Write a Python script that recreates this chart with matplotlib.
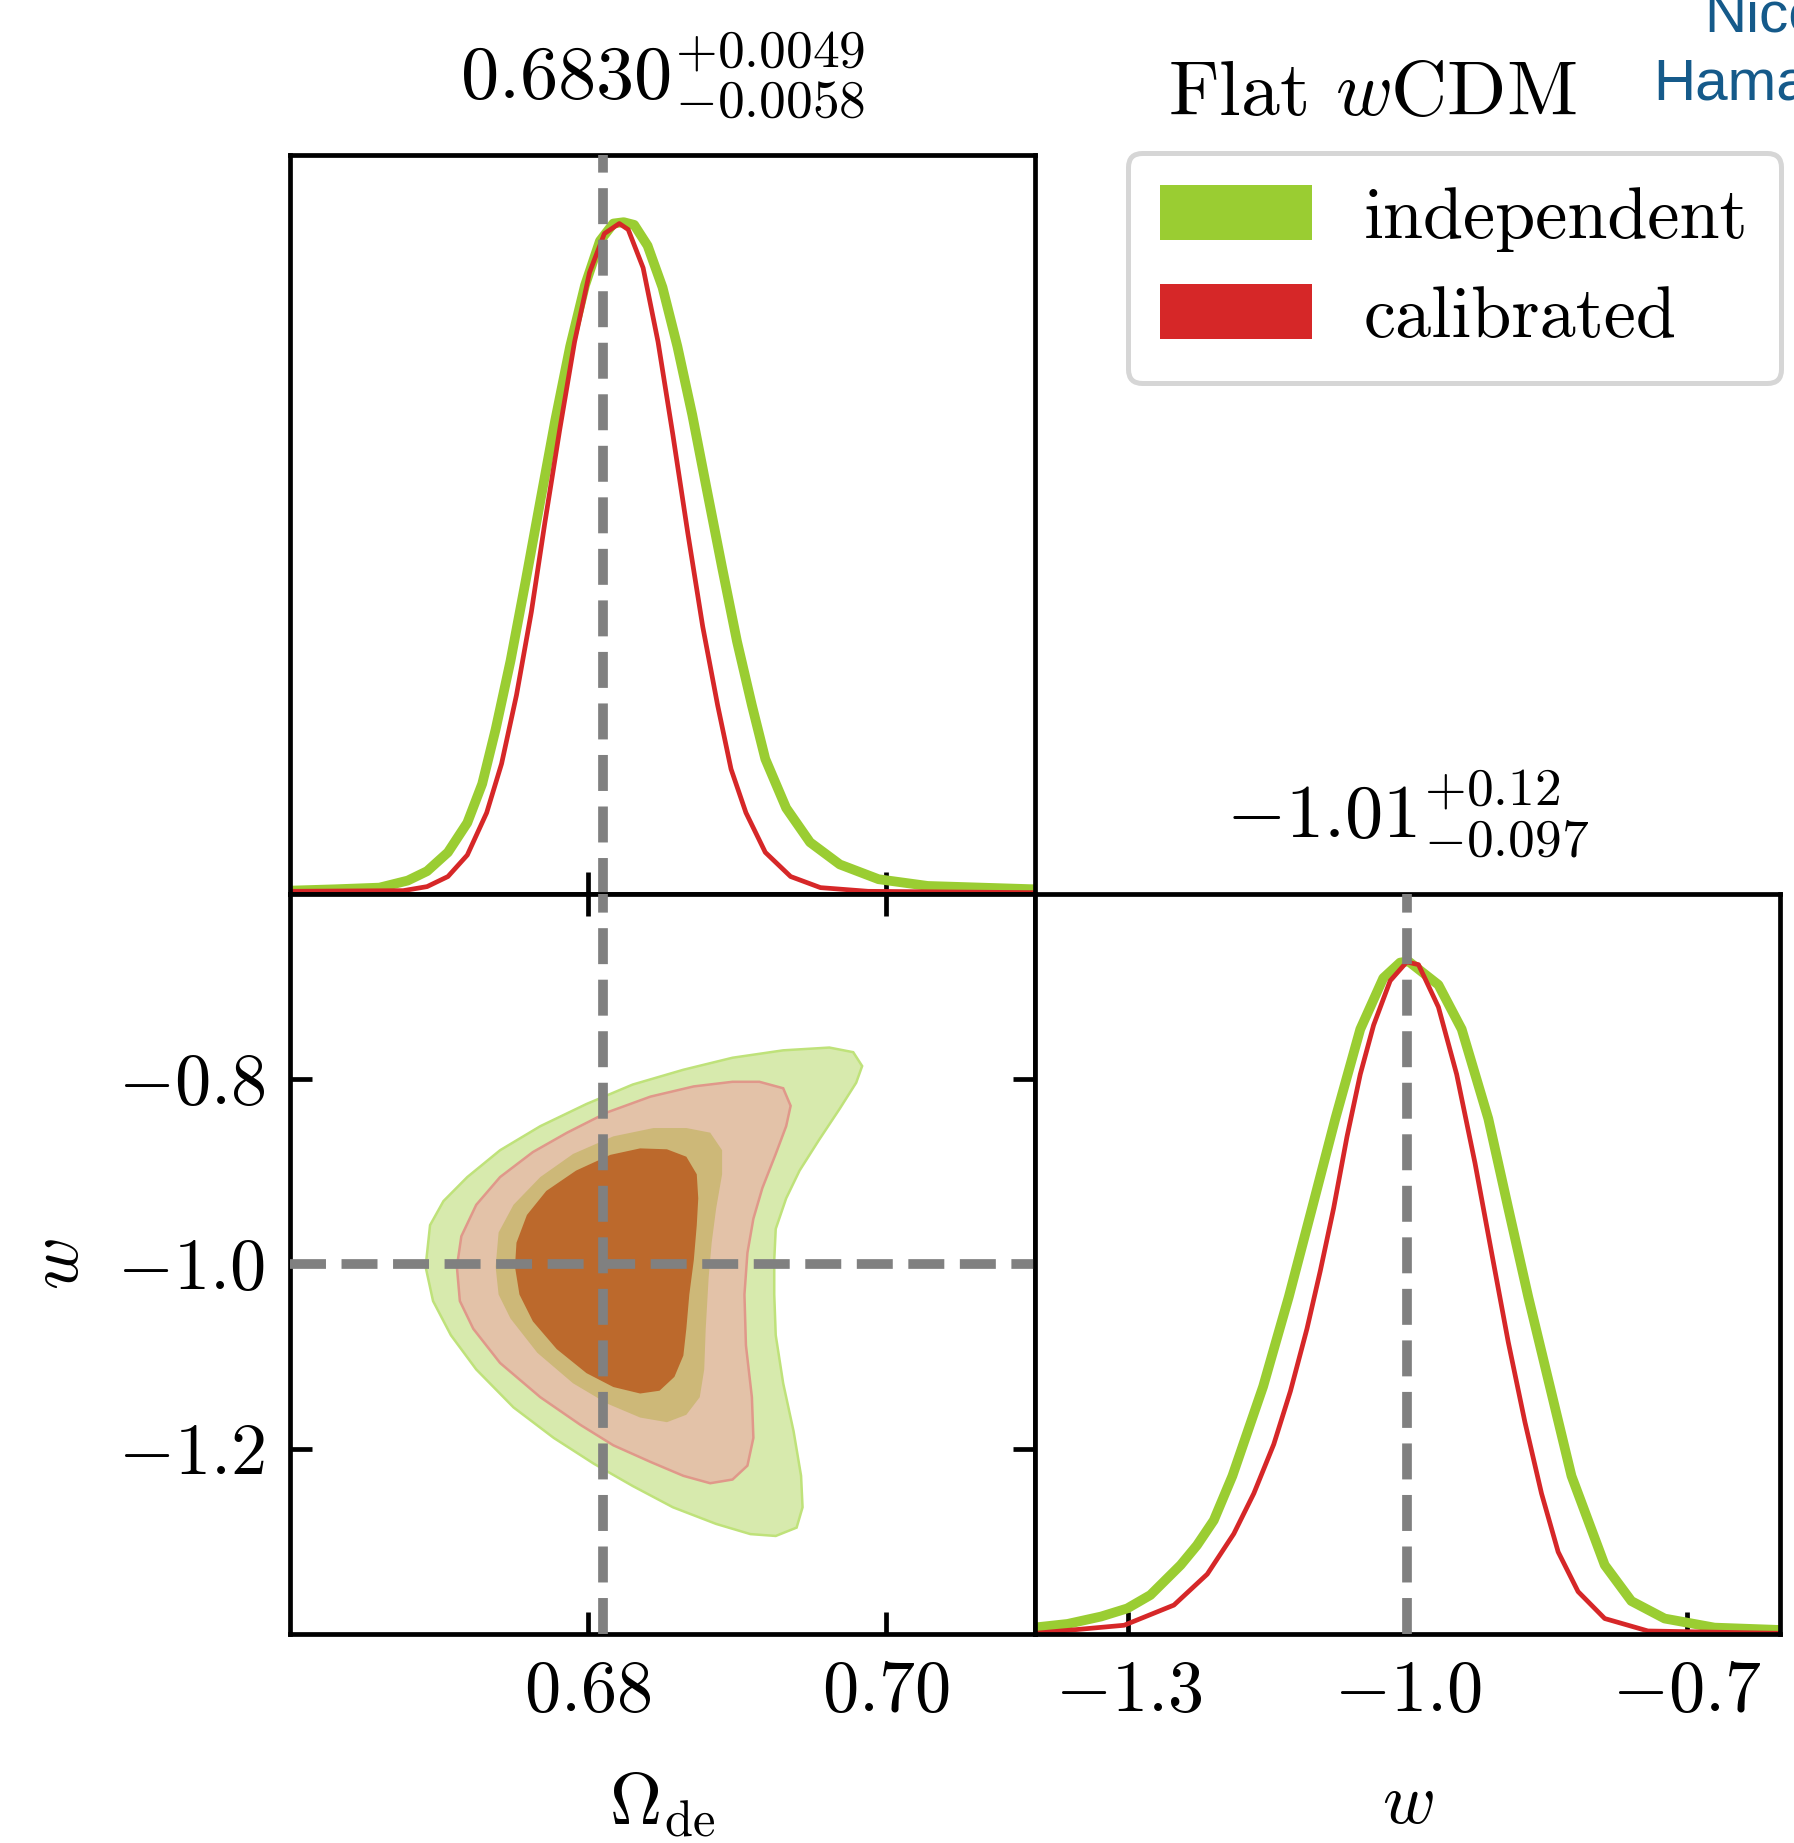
import matplotlib
matplotlib.use("Agg")
import matplotlib.pyplot as plt
from matplotlib.patches import Patch

plt.rcParams["font.family"] = "serif"
plt.rcParams["font.serif"] = ["cmr10"]
plt.rcParams["mathtext.fontset"] = "cm"
plt.rcParams["axes.unicode_minus"] = False
plt.rcParams["axes.formatter.use_mathtext"] = True

# fiducial values (dashed lines)
om_fid = 0.681
w_fid = -1.0

# 1D marginal of Omega_de (peak normalised to 1)
om_indep = [0.6600, 0.6630, 0.6660, 0.6679, 0.6692, 0.6706, 0.6719, 0.6729, 0.6738, 0.6748,
            0.6758, 0.6768, 0.6778, 0.6788, 0.6798, 0.6808, 0.6817, 0.6824, 0.6831, 0.6840,
            0.6850, 0.6860, 0.6870, 0.6880, 0.6890, 0.6900, 0.6910, 0.6919, 0.6933, 0.6949,
            0.6969, 0.6995, 0.7028, 0.7100]
pdf_om_indep = [0.005, 0.007, 0.0095, 0.020, 0.034, 0.062, 0.106, 0.164, 0.245, 0.347,
                0.464, 0.585, 0.705, 0.815, 0.906, 0.972, 0.998, 1.0, 0.996, 0.965,
                0.903, 0.815, 0.713, 0.599, 0.486, 0.376, 0.281, 0.201, 0.128, 0.077,
                0.044, 0.022, 0.012, 0.007]

om_calib = [0.6600, 0.6676, 0.6692, 0.6706, 0.6719, 0.6732, 0.6742, 0.6752, 0.6762, 0.6771,
            0.6781, 0.6791, 0.6801, 0.6811, 0.6821, 0.6827, 0.6837, 0.6847, 0.6857, 0.6867,
            0.6877, 0.6887, 0.6896, 0.6906, 0.6919, 0.6936, 0.6956, 0.6988, 0.7100]
pdf_om_calib = [0.004, 0.005, 0.011, 0.026, 0.058, 0.121, 0.194, 0.296, 0.420, 0.552,
                0.691, 0.822, 0.925, 0.983, 0.998, 0.989, 0.932, 0.822, 0.683, 0.537,
                0.398, 0.281, 0.186, 0.121, 0.062, 0.026, 0.0095, 0.004, 0.002]

# 1D marginal of w
w_indep = [-1.400, -1.365, -1.329, -1.301, -1.276, -1.2436, -1.226, -1.208, -1.188, -1.155,
           -1.1275, -1.1025, -1.0775, -1.0507, -1.026, -1.008, -0.999, -0.9668, -0.9418,
           -0.9132, -0.8918, -0.8703, -0.8471, -0.8239, -0.7882, -0.7596, -0.7239, -0.6703,
           -0.6000]
pdf_w_indep = [0.0097, 0.015, 0.026, 0.038, 0.058, 0.1025, 0.132, 0.169, 0.235, 0.368,
               0.501, 0.633, 0.766, 0.899, 0.975, 0.998, 1.0, 0.965, 0.899,
               0.766, 0.633, 0.501, 0.368, 0.235, 0.1025, 0.049, 0.023, 0.0095,
               0.006]

w_calib = [-1.400, -1.3043, -1.2508, -1.2150, -1.1865, -1.1650, -1.1436, -1.1257, -1.1079,
           -1.0936, -1.0793, -1.0650, -1.0507, -1.0364, -1.0186, -1.0008, -0.9882, -0.9668,
           -0.9472, -0.9275, -0.9097, -0.8918, -0.8739, -0.8561, -0.8382, -0.8168, -0.7882,
           -0.7418, -0.6000]
pdf_w_calib = [0.001, 0.013, 0.043, 0.089, 0.149, 0.209, 0.282, 0.361, 0.454,
               0.540, 0.633, 0.739, 0.832, 0.905, 0.971, 0.999, 0.995, 0.932,
               0.832, 0.700, 0.567, 0.434, 0.315, 0.209, 0.122, 0.063, 0.023,
               0.0045, 0.001]

# 2D contours (Omega_de, w)
indep_2s_om = [0.6691, 0.6694, 0.6703, 0.6719, 0.6741, 0.6768, 0.6799, 0.6830, 0.6864, 0.6897,
               0.6931, 0.6962, 0.6978, 0.6984, 0.6980, 0.6969, 0.6955, 0.6942, 0.6933, 0.6926,
               0.6925, 0.6925, 0.6926, 0.6931, 0.6938, 0.6943, 0.6944, 0.6940, 0.6926, 0.6909,
               0.6886, 0.6857, 0.6830, 0.6804, 0.6777, 0.6750, 0.6725, 0.6708, 0.6696]
indep_2s_w = [-1.003, -0.958, -0.932, -0.906, -0.877, -0.851, -0.827, -0.806, -0.790, -0.777,
              -0.769, -0.766, -0.771, -0.786, -0.804, -0.832, -0.866, -0.899, -0.929, -0.962,
              -0.996, -1.033, -1.077, -1.129, -1.181, -1.229, -1.263, -1.285, -1.294, -1.292,
              -1.281, -1.263, -1.240, -1.216, -1.188, -1.155, -1.114, -1.077, -1.040]

calib_2s_om = [0.6712, 0.6715, 0.6725, 0.6741, 0.6763, 0.6786, 0.6813, 0.6842, 0.6871, 0.6897,
               0.6915, 0.6931, 0.6936, 0.6933, 0.6926, 0.6917, 0.6911, 0.6907, 0.6905, 0.6906,
               0.6910, 0.6911, 0.6907, 0.6897, 0.6882, 0.6864, 0.6842, 0.6817, 0.6795, 0.6768,
               0.6741, 0.6723, 0.6714]
calib_2s_w = [-1.003, -0.970, -0.936, -0.906, -0.879, -0.858, -0.836, -0.819, -0.808, -0.803,
              -0.803, -0.810, -0.829, -0.851, -0.881, -0.918, -0.951, -0.988, -1.033, -1.088,
              -1.144, -1.188, -1.218, -1.233, -1.237, -1.229, -1.214, -1.196, -1.174, -1.144,
              -1.107, -1.070, -1.040]

indep_1s_om = [0.6738, 0.6740, 0.6750, 0.6768, 0.6790, 0.6817, 0.6844, 0.6866, 0.6882, 0.6890,
               0.6890, 0.6886, 0.6883, 0.6881, 0.6879, 0.6878, 0.6875, 0.6866, 0.6853, 0.6835,
               0.6813, 0.6790, 0.6766, 0.6748, 0.6740]
indep_1s_w = [-1.003, -0.966, -0.936, -0.906, -0.881, -0.862, -0.853, -0.853, -0.858, -0.877,
              -0.903, -0.940, -0.977, -1.014, -1.070, -1.114, -1.144, -1.163, -1.171, -1.166,
              -1.151, -1.129, -1.096, -1.059, -1.033]

calib_1s_om = [0.6751, 0.6752, 0.6759, 0.6772, 0.6792, 0.6815, 0.6835, 0.6853, 0.6866, 0.6873,
               0.6874, 0.6873, 0.6871, 0.6868, 0.6866, 0.6864, 0.6858, 0.6848, 0.6835, 0.6817,
               0.6799, 0.6779, 0.6763, 0.6754]
calib_1s_w = [-1.003, -0.977, -0.947, -0.921, -0.899, -0.882, -0.875, -0.876, -0.884, -0.903,
              -0.929, -0.958, -0.996, -1.033, -1.070, -1.099, -1.122, -1.137, -1.140, -1.133,
              -1.118, -1.092, -1.062, -1.033]

# ticks and text
om_ticks = [0.68, 0.70]
om_ticklabels = ["$0.68$", "$0.70$"]
w_ticks_y = [-0.8, -1.0, -1.2]
w_ticklabels_y = ["$-0.8$", "$-1.0$", "$-1.2$"]
w_ticks_x = [-1.3, -1.0, -0.7]
w_ticklabels_x = ["$-1.3$", "$-1.0$", "$-0.7$"]
title_om = r"$0.6830^{+0.0049}_{-0.0058}$"
title_w = r"$-1.01^{+0.12}_{-0.097}$"
labels = ["independent", "calibrated"]

green = "#9acd32"
red = "#d62728"
grey = "#808080"
FS = 52
LW_AX = 3.4

fig = plt.figure(figsize=(17.94, 18.43), dpi=100)
ax_t = fig.add_axes([0.16165, 0.51492, 0.41527, 0.40098])
ax_c = fig.add_axes([0.16165, 0.1134, 0.41527, 0.40152])
ax_r = fig.add_axes([0.57692, 0.1134, 0.41527, 0.40152])

for ax in (ax_t, ax_c, ax_r):
    for s in ax.spines.values():
        s.set_linewidth(LW_AX)
    ax.tick_params(direction="in", length=16, width=LW_AX, labelsize=FS, pad=19)

# top: Omega_de marginal
ax_t.plot(om_indep, pdf_om_indep, color=green, lw=7, solid_joinstyle="round")
ax_t.plot(om_calib, pdf_om_calib, color=red, lw=3.4, solid_joinstyle="round")
ax_t.axvline(om_fid, color=grey, lw=7, ls="--", zorder=5)
ax_t.set_xlim(0.66, 0.71)
ax_t.set_ylim(0, 1.10)
ax_t.set_xticks(om_ticks)
ax_t.tick_params(axis="x", labelbottom=False)
ax_t.set_yticks([])
ax_t.text(0.5, 1.076, title_om, transform=ax_t.transAxes, ha="center", va="baseline", fontsize=55)

# 2D contours
ax_c.fill(indep_2s_om, indep_2s_w, facecolor="#d7eaad", edgecolor="#bfe27a", lw=1.8)
ax_c.fill(calib_2s_om, calib_2s_w, facecolor="#e3c2a8", edgecolor="#e0988a", lw=1.8)
ax_c.fill(indep_1s_om, indep_1s_w, facecolor="#cdb878", edgecolor="none")
ax_c.fill(calib_1s_om, calib_1s_w, facecolor="#bc692c", edgecolor="none")
ax_c.axvline(om_fid, color=grey, lw=7, ls="--", zorder=5)
ax_c.axhline(w_fid, color=grey, lw=7, ls="--", zorder=5)
ax_c.set_xlim(0.66, 0.71)
ax_c.set_ylim(-1.4, -0.6)
ax_c.set_xticks(om_ticks)
ax_c.set_xticklabels(om_ticklabels)
ax_c.set_yticks(w_ticks_y)
ax_c.set_yticklabels(w_ticklabels_y)
ax_c.tick_params(top=True, right=True)
ax_c.tick_params(axis="y", pad=18)
ax_c.set_xlabel(r"$\Omega_{\rm de}$", fontsize=FS, va="center")
ax_c.xaxis.set_label_coords(0.5, -0.231)
ax_c.set_ylabel(r"$w$", fontsize=FS, va="center", ha="center")
ax_c.yaxis.set_label_coords(-0.309, 0.5)

# right: w marginal
ax_r.plot(w_indep, pdf_w_indep, color=green, lw=7, solid_joinstyle="round")
ax_r.plot(w_calib, pdf_w_calib, color=red, lw=3.4, solid_joinstyle="round")
ax_r.axvline(w_fid, color=grey, lw=7, ls="--", zorder=5)
ax_r.set_xlim(-1.4, -0.6)
ax_r.set_ylim(0, 1.10)
ax_r.set_xticks(w_ticks_x)
ax_r.set_xticklabels(w_ticklabels_x)
ax_r.set_yticks([])
ax_r.set_xlabel(r"$w$", fontsize=FS, va="center")
ax_r.xaxis.set_label_coords(0.5, -0.231)
ax_r.text(0.5, 1.076, title_w, transform=ax_r.transAxes, ha="center", va="baseline", fontsize=55)

# legend and model name
handles = [Patch(facecolor=green, edgecolor="none", label=labels[0]),
           Patch(facecolor=red, edgecolor="none", label=labels[1])]
leg = fig.legend(handles=handles, loc="upper right", bbox_to_anchor=(0.9928, 0.917),
                 fontsize=FS, frameon=True, fancybox=True, framealpha=1,
                 edgecolor="#d6d6d6", handlelength=2.1, handleheight=0.78,
                 handletextpad=0.72, borderpad=0.45, labelspacing=0.45, borderaxespad=0)
leg.get_frame().set_linewidth(3.6)

fig.text(1372 / 1794, 1 - 115 / 1843, r"Flat $w$CDM", ha="center", va="baseline", fontsize=56)

# speaker name cut off at the slide edge, as in the source slide
fig.text(1704 / 1794, 1 - 32 / 1843, "Nico", family="Liberation Sans", fontsize=42,
         color="#155a8a", va="baseline")
fig.text(1653 / 1794, 1 - 100 / 1843, "Hamaus", family="Liberation Sans", fontsize=42,
         color="#155a8a", va="baseline")

fig.savefig("out.png", dpi=100)
